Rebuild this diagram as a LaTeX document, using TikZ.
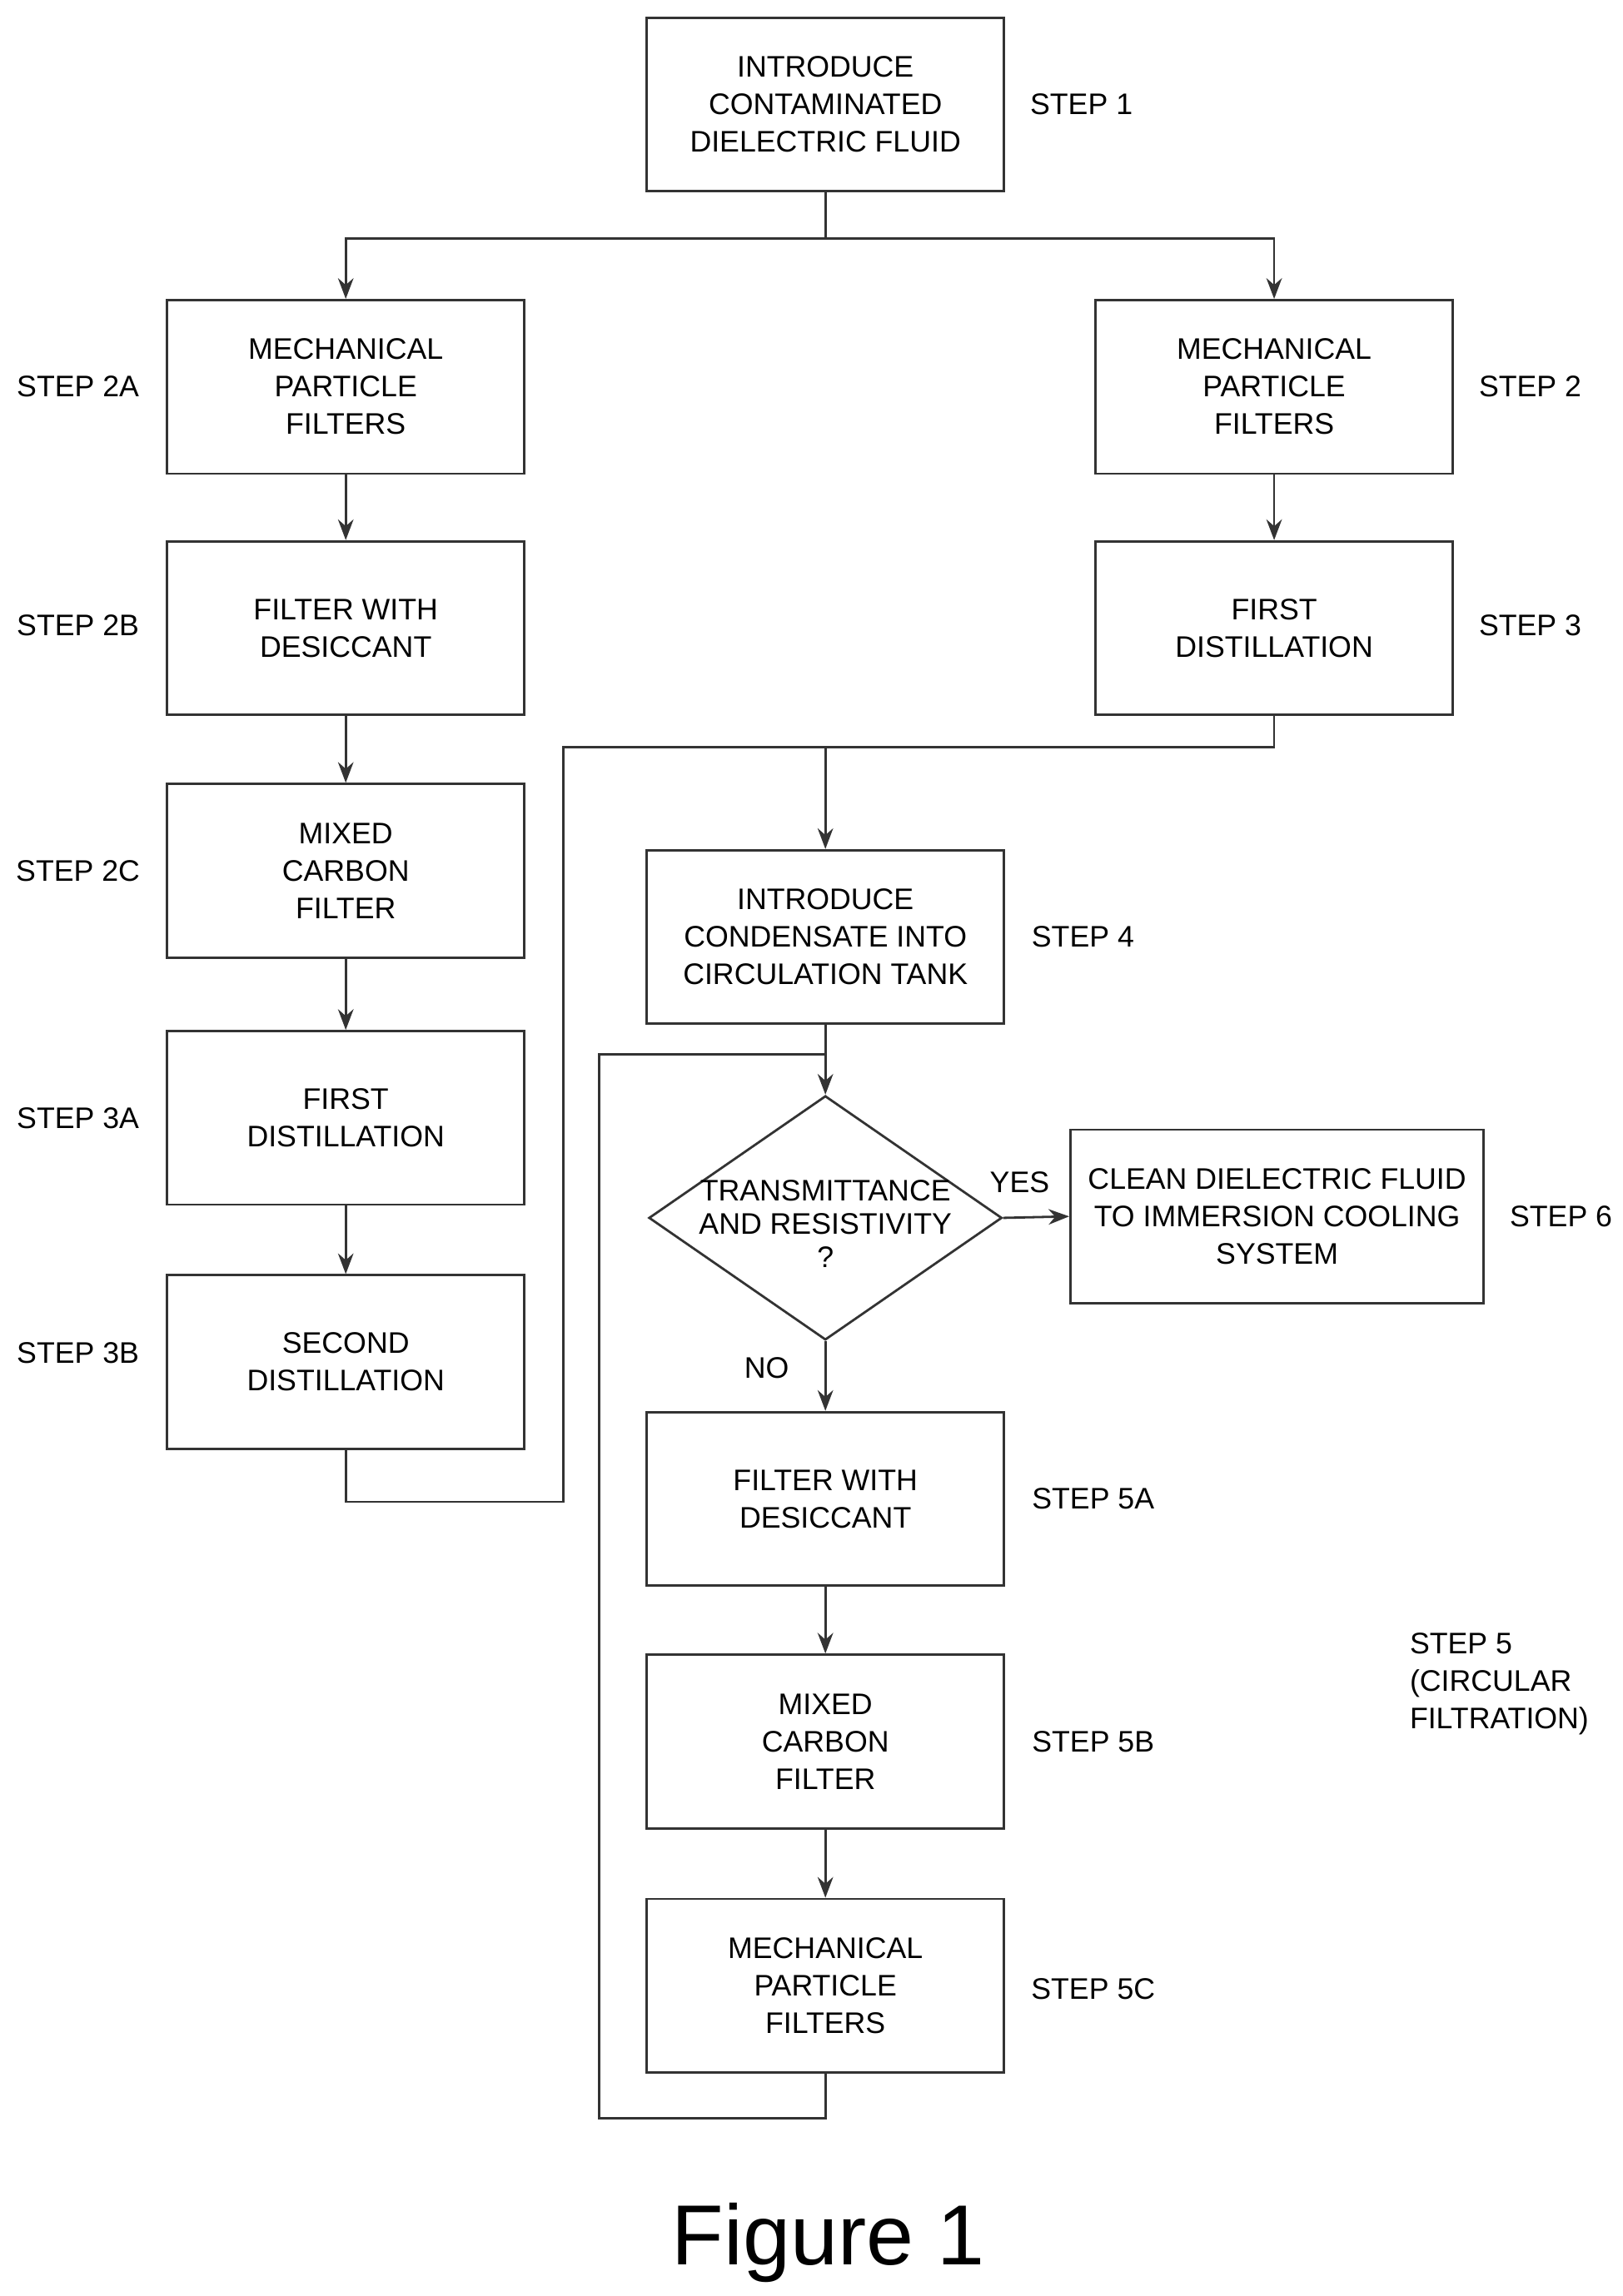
\documentclass[tikz,border=0pt]{standalone}
\usepackage{fontspec}
\setmainfont{Liberation Sans}
\usetikzlibrary{arrows.meta,shapes.geometric}
\begin{document}
\begin{tikzpicture}[x=0.02cm,y=-0.02cm,
  box/.style={draw=black!80,line width=0.9pt,minimum width=243*0.02cm,minimum height=118*0.02cm,align=center,font=\fontsize{11.5}{14.5}\selectfont,inner sep=0pt},
  lab/.style={font=\fontsize{11.5}{14.5}\selectfont,align=left},
  ln/.style={draw=black!80,line width=0.9pt},
  ar/.style={ln,-{Stealth[length=8pt,width=6pt]}}]
\useasboundingbox (0,0) rectangle (1103,1561);
\node[box] (b1) at (561,71) {INTRODUCE\\CONTAMINATED\\DIELECTRIC FLUID};
\node[lab] at (735,71) {STEP 1};
\node[box] (a2) at (235,263) {MECHANICAL\\PARTICLE\\FILTERS};
\node[box] (b2) at (235,427) {FILTER WITH\\DESICCANT};
\node[box] (c2) at (235,592) {MIXED\\CARBON\\FILTER};
\node[box] (a3) at (235,760) {FIRST\\DISTILLATION};
\node[box] (b3) at (235,926) {SECOND\\DISTILLATION};
\node[lab] at (53,263) {STEP 2A};
\node[lab] at (53,425) {STEP 2B};
\node[lab] at (53,592) {STEP 2C};
\node[lab] at (53,760) {STEP 3A};
\node[lab] at (53,920) {STEP 3B};
\node[box] (s2) at (866,263) {MECHANICAL\\PARTICLE\\FILTERS};
\node[box] (s3) at (866,427) {FIRST\\DISTILLATION};
\node[lab] at (1040,263) {STEP 2};
\node[lab] at (1040,425) {STEP 3};
\node[box] (b4) at (561,637) {INTRODUCE\\CONDENSATE INTO\\CIRCULATION TANK};
\node[lab] at (736,637) {STEP 4};
\node[diamond,draw=black!80,line width=0.9pt,aspect=1.45,minimum width=240*0.02cm,minimum height=166*0.02cm,inner sep=0pt,align=center,font=\fontsize{11.5}{14.5}\selectfont] (d) at (561,828) {};
\node[align=center,font=\fontsize{11.5}{13}\selectfont] at (561,832) {TRANSMITTANCE\\AND RESISTIVITY\\?};
\node[box,minimum width=281*0.02cm] (b6) at (868,827) {CLEAN DIELECTRIC FLUID\\TO IMMERSION COOLING\\SYSTEM};
\node[lab] at (1061,827) {STEP 6};
\node[lab] at (693,804) {YES};
\node[lab] at (521,930) {NO};
\node[box] (f5a) at (561,1019) {FILTER WITH\\DESICCANT};
\node[box] (f5b) at (561,1184) {MIXED\\CARBON\\FILTER};
\node[box] (f5c) at (561,1350) {MECHANICAL\\PARTICLE\\FILTERS};
\node[lab] at (743,1019) {STEP 5A};
\node[lab] at (743,1184) {STEP 5B};
\node[lab] at (743,1352) {STEP 5C};
\node[lab,anchor=north west] at (952,1104) {STEP 5\\(CIRCULAR\\FILTRATION)};
\node[font=\fontsize{33}{40}\selectfont] at (563,1525) {Figure 1};
\coordinate (sp) at (561,162);
\draw[ln] (b1.south) -- (sp);
\draw[ar] (sp) -| (a2.north);
\draw[ar] (sp) -| (s2.north);
\draw[ar] (a2) -- (b2); \draw[ar] (b2) -- (c2); \draw[ar] (c2) -- (a3); \draw[ar] (a3) -- (b3);
\draw[ar] (s2) -- (s3);
\coordinate (j) at (561,508);
\draw[ln] (s3.south) |- (j);
\draw[ln] (b3.south) |- (383,1021) -- (383,508) -- (j);
\draw[ar] (j) -- (b4.north);
\coordinate (lj) at (561,717);
\draw[ar] (b4.south) -- (d.north);
\draw[ar] (d.east) -- (b6.west);
\draw[ar] (d.south) -- (f5a.north);
\draw[ar] (f5a) -- (f5b); \draw[ar] (f5b) -- (f5c);
\draw[ln] (f5c.south) |- (407,1440) |- (lj);
\end{tikzpicture}
\end{document}
